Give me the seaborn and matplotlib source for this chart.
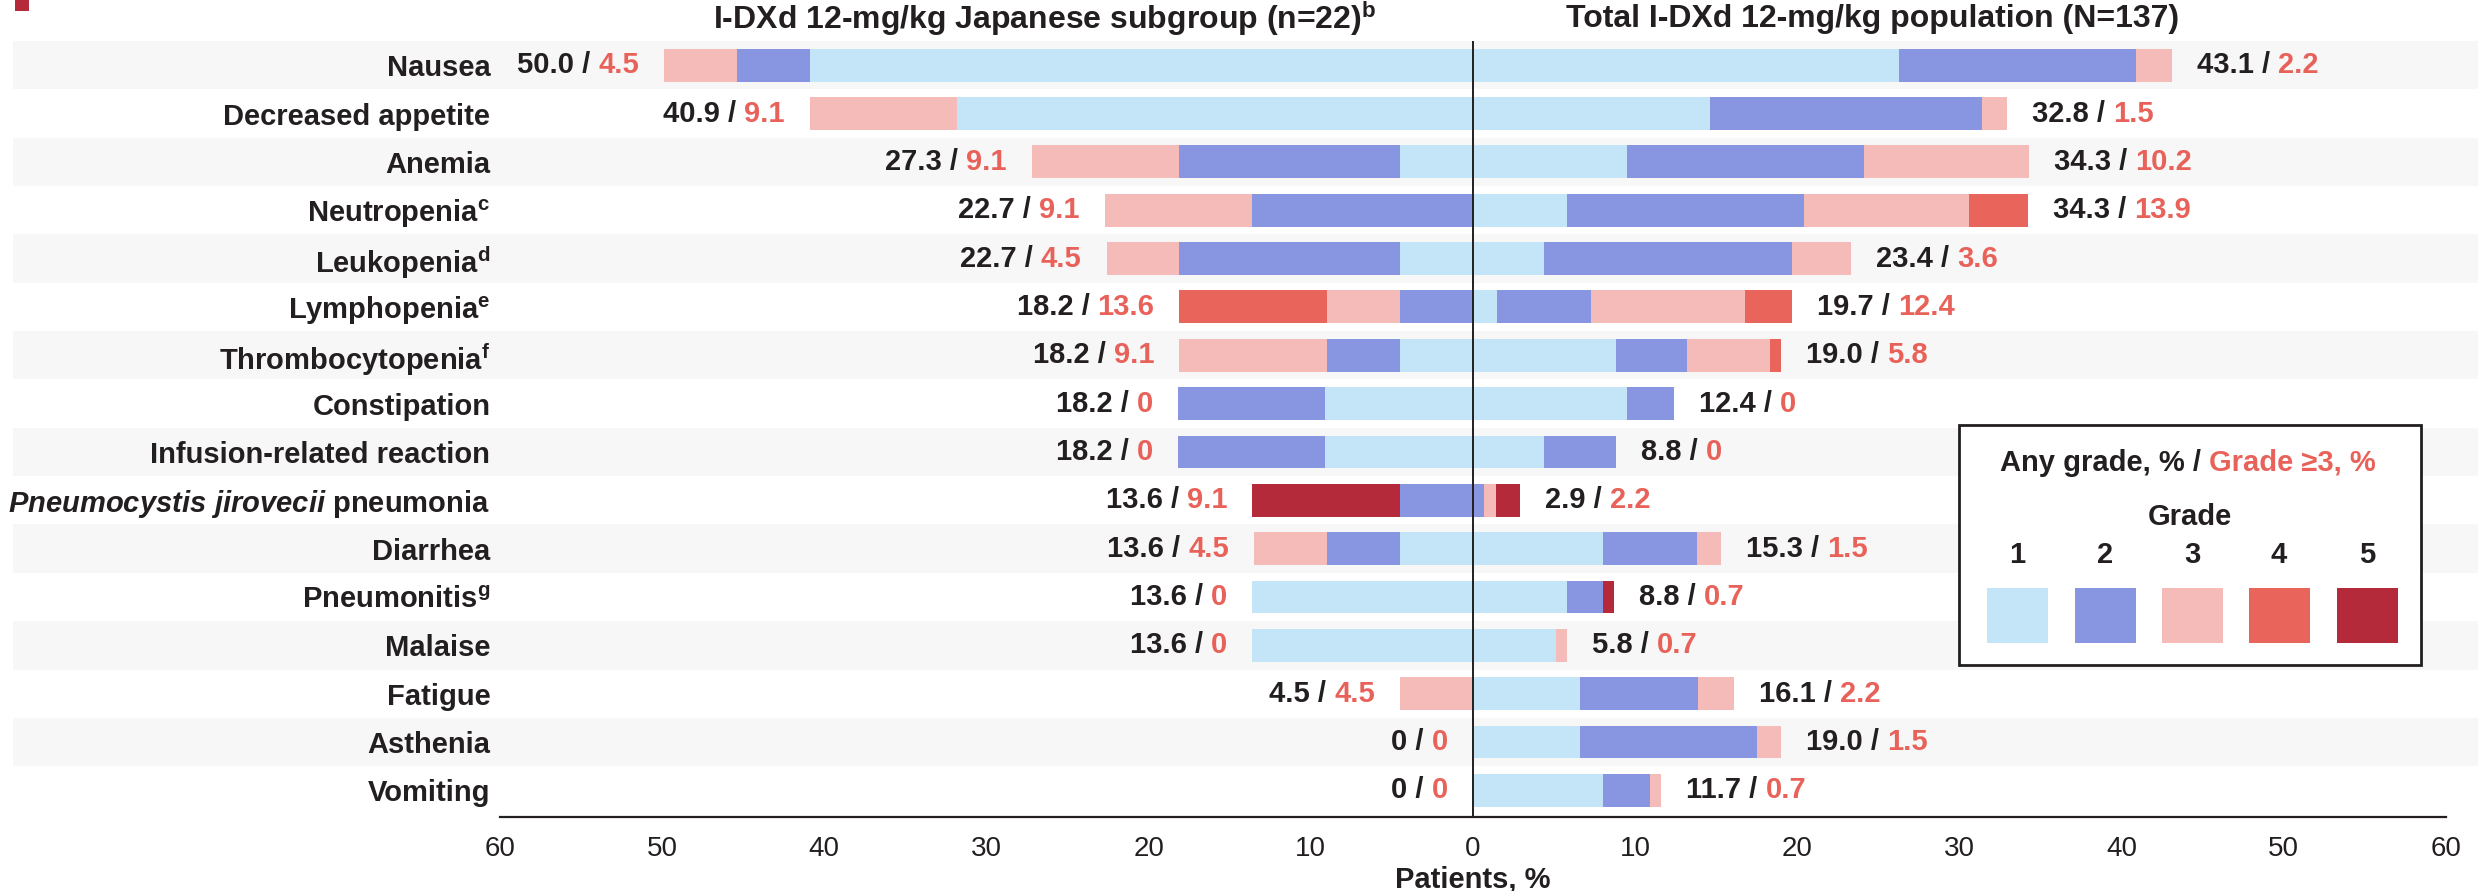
import matplotlib
matplotlib.use("Agg")
import matplotlib.pyplot as plt
from matplotlib.patches import Rectangle
from matplotlib.text import Annotation
from matplotlib.transforms import blended_transform_factory
import numpy as np
import pandas as pd
import seaborn as sns

# adverse events, top to bottom
categories = ["Nausea", "Decreased appetite", "Anemia", "Neutropenia", "Leukopenia", "Lymphopenia",
              "Thrombocytopenia", "Constipation", "Infusion-related reaction", "PJP", "Diarrhea",
              "Pneumonitis", "Malaise", "Fatigue", "Asthenia", "Vomiting"]
row_labels = ["Nausea", "Decreased appetite", "Anemia", r"Neutropenia$^{\mathrm{c}}$",
              r"Leukopenia$^{\mathrm{d}}$", r"Lymphopenia$^{\mathrm{e}}$", r"Thrombocytopenia$^{\mathrm{f}}$",
              "Constipation", "Infusion-related reaction", r"$\mathit{Pneumocystis\ jirovecii}$ pneumonia",
              "Diarrhea", r"Pneumonitis$^{\mathrm{g}}$", "Malaise", "Fatigue", "Asthenia", "Vomiting"]

# Japanese subgroup (n=22), % of patients per grade
jp_g1 = [40.9, 31.8, 4.5, 0, 4.5, 0, 4.5, 9.1, 9.1, 0, 4.5, 13.6, 13.6, 0, 0, 0]
jp_g2 = [4.5, 0, 13.6, 13.6, 13.6, 4.5, 4.5, 9.1, 9.1, 4.5, 4.5, 0, 0, 0, 0, 0]
jp_g3 = [4.5, 9.1, 9.1, 9.1, 4.5, 4.5, 9.1, 0, 0, 0, 4.5, 0, 0, 4.5, 0, 0]
jp_g4 = [0, 0, 0, 0, 0, 9.1, 0, 0, 0, 0, 0, 0, 0, 0, 0, 0]
jp_g5 = [0, 0, 0, 0, 0, 0, 0, 0, 0, 9.1, 0, 0, 0, 0, 0, 0]

# total population (N=137), % of patients per grade
tot_g1 = [26.3, 14.6, 9.5, 5.8, 4.4, 1.5, 8.8, 9.5, 4.4, 0, 8.0, 5.8, 5.1, 6.6, 6.6, 8.0]
tot_g2 = [14.6, 16.8, 14.6, 14.6, 15.3, 5.8, 4.4, 2.9, 4.4, 0.7, 5.8, 2.2, 0, 7.3, 10.9, 2.9]
tot_g3 = [2.2, 1.5, 10.2, 10.2, 3.6, 9.5, 5.1, 0, 0, 0.7, 1.5, 0, 0.7, 2.2, 1.5, 0.7]
tot_g4 = [0, 0, 0, 3.6, 0, 2.9, 0.7, 0, 0, 0, 0, 0, 0, 0, 0, 0]
tot_g5 = [0, 0, 0, 0, 0, 0, 0, 0, 0, 1.5, 0, 0.7, 0, 0, 0, 0]

jp_any = ["50.0", "40.9", "27.3", "22.7", "22.7", "18.2", "18.2", "18.2", "18.2", "13.6", "13.6",
          "13.6", "13.6", "4.5", "0", "0"]
jp_g3plus = ["4.5", "9.1", "9.1", "9.1", "4.5", "13.6", "9.1", "0", "0", "9.1", "4.5", "0", "0", "4.5", "0", "0"]
tot_any = ["43.1", "32.8", "34.3", "34.3", "23.4", "19.7", "19.0", "12.4", "8.8", "2.9", "15.3", "8.8",
           "5.8", "16.1", "19.0", "11.7"]
tot_g3plus = ["2.2", "1.5", "10.2", "13.9", "3.6", "12.4", "5.8", "0", "0", "2.2", "1.5", "0.7", "0.7",
              "2.2", "1.5", "0.7"]

grades = ["1", "2", "3", "4", "5"]
grade_colors = ["#C3E5F7", "#8896E2", "#F5BBB8", "#E9645A", "#B52A3A"]
BLACK = "#231F20"
RED = "#E8625A"
BAND = "#F7F7F7"

sns.set_style("white")
plt.rcParams["font.family"] = ["Liberation Sans", "DejaVu Sans"]
plt.rcParams["mathtext.fontset"] = "custom"
plt.rcParams["mathtext.rm"] = "Liberation Sans:bold"
plt.rcParams["mathtext.bf"] = "Liberation Sans:bold"
plt.rcParams["mathtext.it"] = "Liberation Sans:italic:bold"

W, H = 2478, 891
fig = plt.figure(figsize=(W / 100, H / 100), dpi=100)
ax = fig.add_axes([500 / W, 1 - 817 / H, 1946 / W, 776 / H])

jp = pd.DataFrame({"category": categories, "g1": jp_g1, "g2": jp_g2, "g3": jp_g3, "g4": jp_g4, "g5": jp_g5})
tot = pd.DataFrame({"category": categories, "g1": tot_g1, "g2": tot_g2, "g3": tot_g3, "g4": tot_g4, "g5": tot_g5})
for df, sign in [(jp, -1), (tot, 1)]:
    cum = df[["g" + g for g in grades]].cumsum(axis=1)
    # draw the outermost grade first, inner grades overlay it
    for k in range(4, -1, -1):
        d = pd.DataFrame({"category": categories, "x": sign * cum.iloc[:, k]})
        sns.barplot(data=d, x="x", y="category", order=categories, orient="h", color=grade_colors[k],
                    saturation=1, width=0.68, linewidth=0, errorbar=None, ax=ax, zorder=2)

# alternating grey row bands across the figure
band_tr = blended_transform_factory(fig.transFigure, ax.transData)
for i in range(0, len(categories), 2):
    ax.add_patch(Rectangle((13 / W, i - 0.5), 1 - 13 / W, 1, transform=band_tr, color=BAND,
                           zorder=0.5, clip_on=False, linewidth=0))

ax.axvline(0, color=BLACK, lw=1.4, zorder=4)

# value labels: any grade / grade >=3
fs_val = 21
gap = 18
jp_total = jp[["g1", "g2", "g3", "g4", "g5"]].sum(axis=1)
tot_total = tot[["g1", "g2", "g3", "g4", "g5"]].sum(axis=1)
for i in range(len(categories)):
    r = ax.annotate(jp_g3plus[i], xy=(-jp_total[i], i), xytext=(-gap, 0), textcoords="offset points",
                    ha="right", va="center", color=RED, fontsize=fs_val, fontweight="bold")
    ax.annotate(jp_any[i] + " / ", xy=(0, 0.5), xycoords=r, ha="right", va="center", color=BLACK,
                fontsize=fs_val, fontweight="bold")
    b = ax.annotate(tot_any[i] + " / ", xy=(tot_total[i], i), xytext=(gap, 0), textcoords="offset points",
                    ha="left", va="center", color=BLACK, fontsize=fs_val, fontweight="bold")
    ax.annotate(tot_g3plus[i], xy=(1, 0.5), xycoords=b, ha="left", va="center", color=RED,
                fontsize=fs_val, fontweight="bold")

ax.set_xlim(-60, 60)
ax.set_ylim(len(categories) - 0.45, -0.5)
ticks = np.arange(-60, 61, 10)
ax.set_xticks(ticks)
ax.set_xticklabels([str(abs(t)) for t in ticks], fontsize=20, color=BLACK)
ax.set_yticks(range(len(categories)))
ax.set_yticklabels(row_labels, fontsize=21, fontweight="bold", color=BLACK)
ax.tick_params(axis="y", length=0, pad=7)
ax.tick_params(axis="x", direction="out", length=8, width=1.4, color=BLACK, pad=6)
for s in ["top", "right", "left"]:
    ax.spines[s].set_visible(False)
ax.spines["bottom"].set_linewidth(1.6)
ax.spines["bottom"].set_color(BLACK)
ax.set_ylabel("")
ax.set_xlabel("Patients, %", fontsize=21, fontweight="bold", color=BLACK, labelpad=2)

# panel titles
fig.text(1045 / W, 1 - 19 / H, r"I-DXd 12-mg/kg Japanese subgroup (n=22)$^{\mathrm{b}}$", ha="center",
         va="center", fontsize=23, fontweight="bold", color=BLACK)
fig.text(1873 / W, 1 - 19 / H, "Total I-DXd 12-mg/kg population (N=137)", ha="center", va="center",
         fontsize=23, fontweight="bold", color=BLACK)

# small corner mark
fig.add_artist(Rectangle((15 / W, 1 - 11 / H), 14 / W, 11 / H, transform=fig.transFigure,
                         color="#B52A3A", linewidth=0))

# legend box
fs_leg = 21
fig.add_artist(Rectangle((1959 / W, 1 - 665 / H), 462 / W, 240 / H, transform=fig.transFigure,
                         facecolor="white", edgecolor=BLACK, linewidth=2, zorder=5))
lt = fig.text(2000 / W, 1 - 463 / H, "Any grade, % / ", ha="left", va="center", fontsize=fs_leg,
              fontweight="bold", color=BLACK, zorder=6)
red_part = Annotation("Grade \u22653, %", xy=(1, 0.5), xycoords=lt, ha="left", va="center", fontsize=fs_leg,
                      fontweight="bold", color=RED, zorder=6, annotation_clip=False)
fig.add_artist(red_part)
renderer = fig.canvas.get_renderer()
w_total = lt.get_window_extent(renderer).width + red_part.get_window_extent(renderer).width
lt.set_x((2188 - w_total / 2) / W)

fig.text(2190 / W, 1 - 517 / H, "Grade", ha="center", va="center", fontsize=fs_leg, fontweight="bold",
         color=BLACK, zorder=6)
sq_centers = [2017, 2105, 2192, 2279, 2367]
for g, c, xc in zip(grades, grade_colors, sq_centers):
    fig.text(xc / W, 1 - 555 / H, g, ha="center", va="center", fontsize=fs_leg, fontweight="bold",
             color=BLACK, zorder=6)
    fig.add_artist(Rectangle(((xc - 30.5) / W, 1 - 643 / H), 61 / W, 55 / H, transform=fig.transFigure,
                             color=c, linewidth=0, zorder=6))

fig.savefig("out.png", dpi=100)
